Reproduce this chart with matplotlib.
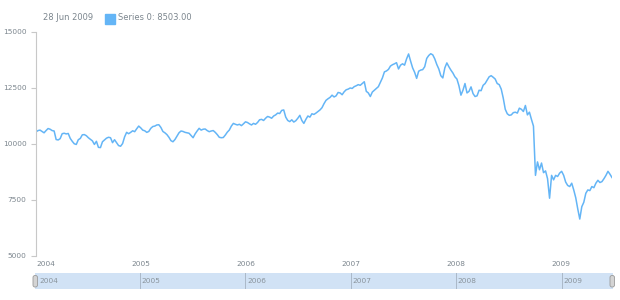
import numpy as np
import pandas as pd
import matplotlib
matplotlib.use('Agg')
import matplotlib.pyplot as plt
import matplotlib.dates as mdates
from matplotlib.patches import Rectangle, FancyBboxPatch
from matplotlib.transforms import IdentityTransform

# weekly closes (Sundays, Jan 2004 - Jun 2009)
v2004 = [10540, 10600, 10620, 10560, 10500, 10600, 10690, 10660, 10600, 10580,
         10200, 10180, 10240, 10460, 10480, 10450, 10470, 10250, 10120, 10010,
         9980, 10190, 10250, 10410, 10420, 10370, 10280, 10210, 10140, 9980,
         10120, 9850, 9840, 10100, 10180, 10260, 10300, 10280, 10060, 10190,
         10060, 9930, 9900, 10020, 10320, 10520, 10460, 10520, 10590, 10550,
         10680, 10800]
v2005 = [10720, 10620, 10590, 10520, 10560, 10700, 10780, 10800, 10850, 10860,
         10740, 10560, 10500, 10420, 10300, 10150, 10100, 10200, 10350, 10500,
         10580, 10560, 10520, 10500, 10480, 10380, 10280, 10450, 10580, 10700,
         10620, 10660, 10670, 10600, 10550, 10580, 10600, 10520, 10420, 10300,
         10280, 10290, 10400, 10530, 10625, 10800, 10920, 10880, 10850, 10880,
         10820, 10900]
v2006 = [10990, 10960, 10900, 10850, 10920, 10880, 10960, 11080, 11100, 11050,
         11150, 11230, 11200, 11150, 11250, 11300, 11380, 11360, 11500, 11520,
         11200, 11050, 11000, 11080, 10980, 11040, 11150, 11280, 11050, 10920,
         11100, 11250, 11200, 11350, 11320, 11380, 11450, 11520, 11620, 11800,
         11950, 12020, 12080, 12180, 12100, 12150, 12300, 12280, 12200, 12330,
         12420, 12450, 12500]
v2007 = [12480, 12560, 12600, 12650, 12620, 12700, 12780, 12350, 12280, 12120,
         12320, 12400, 12480, 12560, 12760, 12950, 13220, 13260, 13330, 13480,
         13540, 13580, 13630, 13350, 13520, 13580, 13520, 13800, 14020, 13700,
         13400, 13200, 12930, 13250, 13300, 13320, 13450, 13820, 13950, 14030,
         13980, 13800, 13550, 13350, 13050, 12950, 13400, 13620, 13450, 13300,
         13170, 13000]
v2008 = [12900, 12600, 12180, 12400, 12700, 12280, 12350, 12550, 12250, 12120,
         12150, 12400, 12380, 12620, 12700, 12850, 13000, 13050, 12980, 12900,
         12700, 12650, 12450, 12050, 11550, 11350, 11280, 11300, 11400, 11420,
         11380, 11600, 11550, 11450, 11720, 11300, 11420, 11100, 10800, 8600,
         9200, 8850, 9150, 8720, 8800, 8450, 7580, 8600, 8400, 8600,
         8550, 8700]
v2009 = [8780, 8600, 8300, 8150, 8100, 8250, 7950, 7600, 7100, 6650,
         7200, 7400, 7800, 7950, 7920, 8100, 8050, 8250, 8380, 8280,
         8320, 8450, 8600, 8780, 8650, 8503]

year_labels = ['2004', '2005', '2006', '2007', '2008', '2009']
y_ticks = [5000, 7500, 10000, 12500, 15000]

dates = pd.date_range('2004-01-04', '2009-06-28', freq='W-SUN')
values = np.concatenate([v2004, v2005, v2006, v2007, v2008, v2009])

line_color = '#64b5f6'
text_color = '#7c868e'
W, H = 620, 300

fig = plt.figure(figsize=(W / 100, H / 100), dpi=100)
ax = fig.add_axes([36 / W, 1 - 256 / H, (612 - 36) / W, (256 - 32) / H])
ax.plot(dates, values, color=line_color, lw=1.1)

x0, x1 = mdates.date2num(dates[0]), mdates.date2num(dates[-1])
ax.set_xlim(x0, x1)
ax.set_ylim(5000, 15000)

for s in ['top', 'right', 'bottom']:
    ax.spines[s].set_visible(False)
ax.spines['left'].set_color('#c8c8c8')
ax.spines['left'].set_linewidth(0.8)

ax.set_yticks(y_ticks)
ax.set_yticklabels([str(v) for v in y_ticks])
ax.tick_params(axis='y', length=3.3, width=0.8, color='#c8c8c8', pad=3.5,
               labelsize=5.3, labelcolor=text_color)

year_starts = [pd.Timestamp(y + '-01-01') for y in year_labels]
xt = [dates[0]] + year_starts[1:]
ax.set_xticks(xt)
ax.set_xticklabels(year_labels)
ax.tick_params(axis='x', length=0, pad=3.5, labelsize=5.3, labelcolor=text_color)
ax.get_xticklabels()[0].set_horizontalalignment('left')
for lab in ax.get_xticklabels()[:1]:
    lab.set_x(x0 + 10)

# header / legend
fig.text(43 / W, 1 - 18 / H, dates[-1].strftime('%d %b %Y'), fontsize=6,
         color=text_color, va='center')
fig.patches.append(Rectangle((105 / W, 1 - 24 / H), 10 / W, 10 / H,
                             transform=fig.transFigure, color=line_color))
fig.text(118 / W, 1 - 18 / H, 'Series 0: %.2f' % values[-1], fontsize=6,
         color=text_color, va='center')

# scroller
sc = fig.add_axes([35 / W, 1 - 289 / H, (613 - 35) / W, 16 / H])
sc.set_facecolor('#d1e2f5')
sc.set_xlim(x0, x1)
sc.set_ylim(0, 1)
for s in sc.spines.values():
    s.set_visible(False)
sc.set_xticks([])
sc.set_yticks([])
for i, ys in enumerate(year_starts):
    xs = mdates.date2num(ys)
    if i > 0:
        sc.axvline(xs, color='#aab8c8', lw=0.7)
    else:
        xs = x0 + 10
    sc.text(xs + 6, 0.5, year_labels[i], fontsize=5.3, color='#8a949c',
            va='center', ha='left')

for px in [33, 610]:
    fig.patches.append(FancyBboxPatch((px, H - 287), 4.5, 11.5,
                                      boxstyle='round,pad=0,rounding_size=2',
                                      transform=IdentityTransform(),
                                      facecolor='#d4d4d4', edgecolor='#9a9a9a',
                                      lw=0.6))

fig.savefig('out.png', dpi=100)
